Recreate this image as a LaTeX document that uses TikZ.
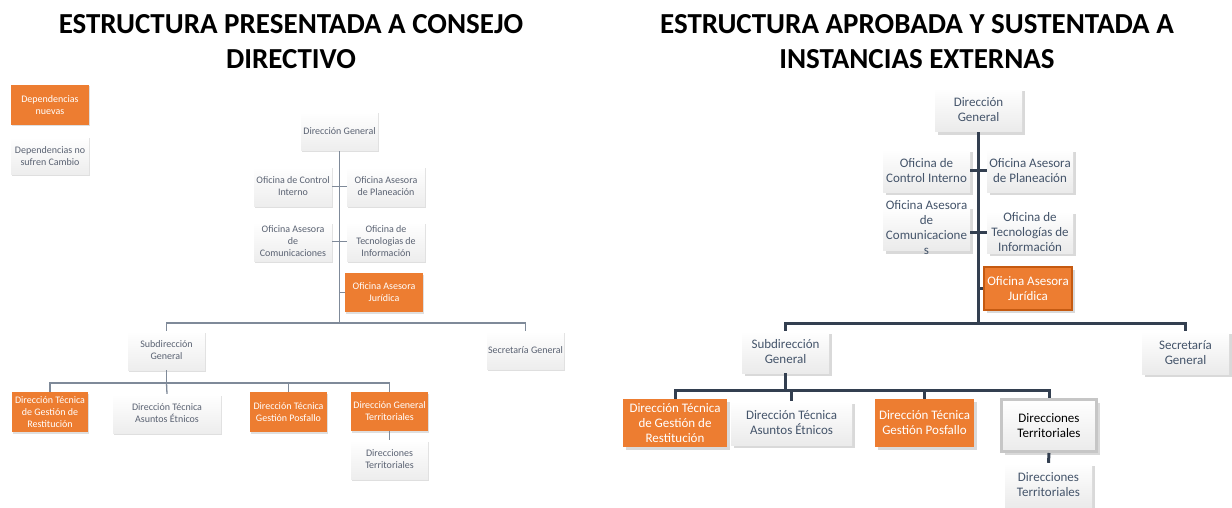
\documentclass[tikz,border=0pt]{standalone}
\usepackage{fontspec}
\setmainfont{Carlito}
\usetikzlibrary{shadows}
\definecolor{naranja}{HTML}{ED7D31}
\definecolor{bordenaranja}{HTML}{C55A11}
\definecolor{textoizq}{HTML}{5A6272}
\definecolor{textoder}{HTML}{44546A}
\definecolor{lineaizq}{HTML}{7F8A99}
\definecolor{lineader}{HTML}{333F50}
\tikzset{
  caja/.style 2 args={minimum width=#1, minimum height=#2, inner xsep=1pt, inner ysep=0pt, align=center},
  izq/.style={font=\fontsize{10}{12}\selectfont, text=textoizq, top color=white, bottom color=gray!14,
    drop shadow={shadow xshift=1pt, shadow yshift=-1.5pt, opacity=0.25}},
  izqnar/.style={font=\fontsize{10}{12}\selectfont, text=white, fill=naranja,
    drop shadow={shadow xshift=1pt, shadow yshift=-1.5pt, opacity=0.25}},
  der/.style={font=\fontsize{13}{15}\selectfont, text=textoder, top color=white, bottom color=gray!16,
    drop shadow={shadow xshift=3pt, shadow yshift=-3pt, opacity=0.3}},
  dernar/.style={font=\fontsize{13}{15}\selectfont, text=white, fill=naranja,
    drop shadow={shadow xshift=3pt, shadow yshift=-3pt, opacity=0.3}},
  lizq/.style={draw=lineaizq, line width=1.3pt},
  lder/.style={draw=lineader, line width=3pt},
  titulo/.style={font=\fontsize{29}{35}\selectfont\bfseries, align=center}
}
\begin{document}
\begin{tikzpicture}[x=1pt,y=-1pt]
\useasboundingbox (0,0) rectangle (1232,508);

%Titulos
\node[titulo] (t1) at (291,42) {ESTRUCTURA PRESENTADA A CONSEJO\\DIRECTIVO};
\node[titulo] (t2) at (917,42) {ESTRUCTURA APROBADA Y SUSTENTADA A\\INSTANCIAS EXTERNAS};

%Leyenda
\node[izqnar, caja={78}{40}] (leg1) at (50,105) {Dependencias\\nuevas};
\node[izq, caja={78}{38}] (leg2) at (50,156) {Dependencias no\\sufren Cambio};

%Estructura presentada
\node[izq, caja={77}{39}] (ldg) at (339.5,131.5) {Dirección General};
\node[izq, caja={78}{39}] (lci) at (293,186.5) {Oficina de Control\\Interno};
\node[izq, caja={78}{39}] (lpl) at (386,186.5) {Oficina Asesora\\de Planeación};
\node[izq, caja={78}{39}] (lco) at (293,241.5) {Oficina Asesora\\de\\Comunicaciones};
\node[izq, caja={78}{39}] (lte) at (386,241.5) {Oficina de\\Tecnologias de\\Información};
\node[izqnar, caja={78}{39}] (lju) at (384,292.5) {Oficina Asesora\\Jurídica};
\node[izq, caja={77}{39}] (lsub) at (166.5,350.5) {Subdirección\\General};
\node[izq, caja={77}{38}] (lsec) at (525.5,350) {Secretaría General};
\node[izqnar, caja={76}{40}] (lres) at (50,412) {Dirección Técnica\\de Gestión de\\Restitución};
\node[izq, caja={108}{39}] (let) at (167,413.5) {Dirección Técnica\\Asuntos Étnicos};
\node[izqnar, caja={77}{40}] (lpos) at (288.5,412) {Dirección Técnica\\Gestión Posfallo};
\node[izqnar, caja={77}{39}] (ldgt) at (389.5,411.5) {Dirección General\\Territoriales};
\node[izq, caja={77}{39}] (ldt) at (389.5,459.5) {Direcciones\\Territoriales};
\coordinate (lbus) at (339.5,323);
\coordinate (lbus2) at (166.5,383);
%lineas izquierda
\draw[lizq] (ldg.south) -- (lbus);
\draw[lizq] (lci.east) -- (lpl.west);
\draw[lizq] (lco.east) -- (lte.west);
\draw[lizq] (ldg.south |- lju.west) -- (lju.west);
\draw[lizq] (lsub.north) |- (lbus) -| (lsec.north);
\draw[lizq] (lsub.south) -- (lbus2);
\draw[lizq] (lres.north) |- (lbus2) -| (ldgt.north);
\draw[lizq] (let.north) -- (lbus2);
\draw[lizq] (lpos.north) -- (lpos.north |- lbus2);
\draw[lizq] (ldgt.south) -- (ldt.north);

%Estructura aprobada
\node[der, caja={87}{44}] (rdg) at (978.5,110) {Dirección\\General};
\node[der, caja={87}{43}] (rci) at (926.5,170.5) {Oficina de\\Control Interno};
\node[der, caja={86}{43}] (rpl) at (1030,170.5) {Oficina Asesora\\de Planeación};
\node[der, caja={87}{45}, inner ysep=-6.5pt] (rco) at (926.5,228) {Oficina Asesora\\de\\Comunicacione\\s};
\node[der, caja={86}{42}, inner ysep=-1pt] (rte) at (1030,232) {Oficina de\\Tecnologías de\\Información};
\node[dernar, caja={88}{43}, draw=bordenaranja, line width=1.5pt] (rju) at (1028,288.5) {Oficina Asesora\\Jurídica};
\node[der, caja={87}{42}] (rsub) at (785.5,352) {Subdirección\\General};
\node[der, caja={87}{43}] (rsec) at (1185.5,352.5) {Secretaría\\General};
\node[dernar, caja={104}{48}] (rres) at (675,423) {Dirección Técnica\\de Gestión de\\Restitución};
\node[der, caja={121}{44}] (ret) at (791.5,423) {Dirección Técnica\\Asuntos Étnicos};
\node[dernar, caja={99}{48}] (rpos) at (924.5,423) {Dirección Técnica\\Gestión Posfallo};
\node[der, caja={95}{52}, fill=white, draw=gray!45, line width=3pt, text=black] (rdt1) at (1049,425.5) {Direcciones\\Territoriales};
\node[der, caja={87}{44}] (rdt2) at (1048.5,485) {Direcciones\\Territoriales};
\coordinate (rbus) at (978.5,323);
\coordinate (rbus2) at (785.5,390);
%lineas derecha
\draw[lder] (rdg.south) -- (rbus);
\draw[lder] (rci.east) -- (rpl.west);
\draw[lder] (rte.west -| rco.east) -- (rte.west);
\draw[lder] (rdg.south |- rju.west) -- (rju.west);
\draw[lder] (rsub.north) |- (rbus) -| (rsec.north);
\draw[lder] (rsub.south) -- (rbus2);
\draw[lder] (rres.north) |- (rbus2) -| (rdt1.north);
\draw[lder] (ret.north) -- (ret.north |- rbus2);
\draw[lder] (rpos.north) -- (rpos.north |- rbus2);
\draw[lder] (rdt1.south) -- (rdt2.north);
\end{tikzpicture}
\end{document}
